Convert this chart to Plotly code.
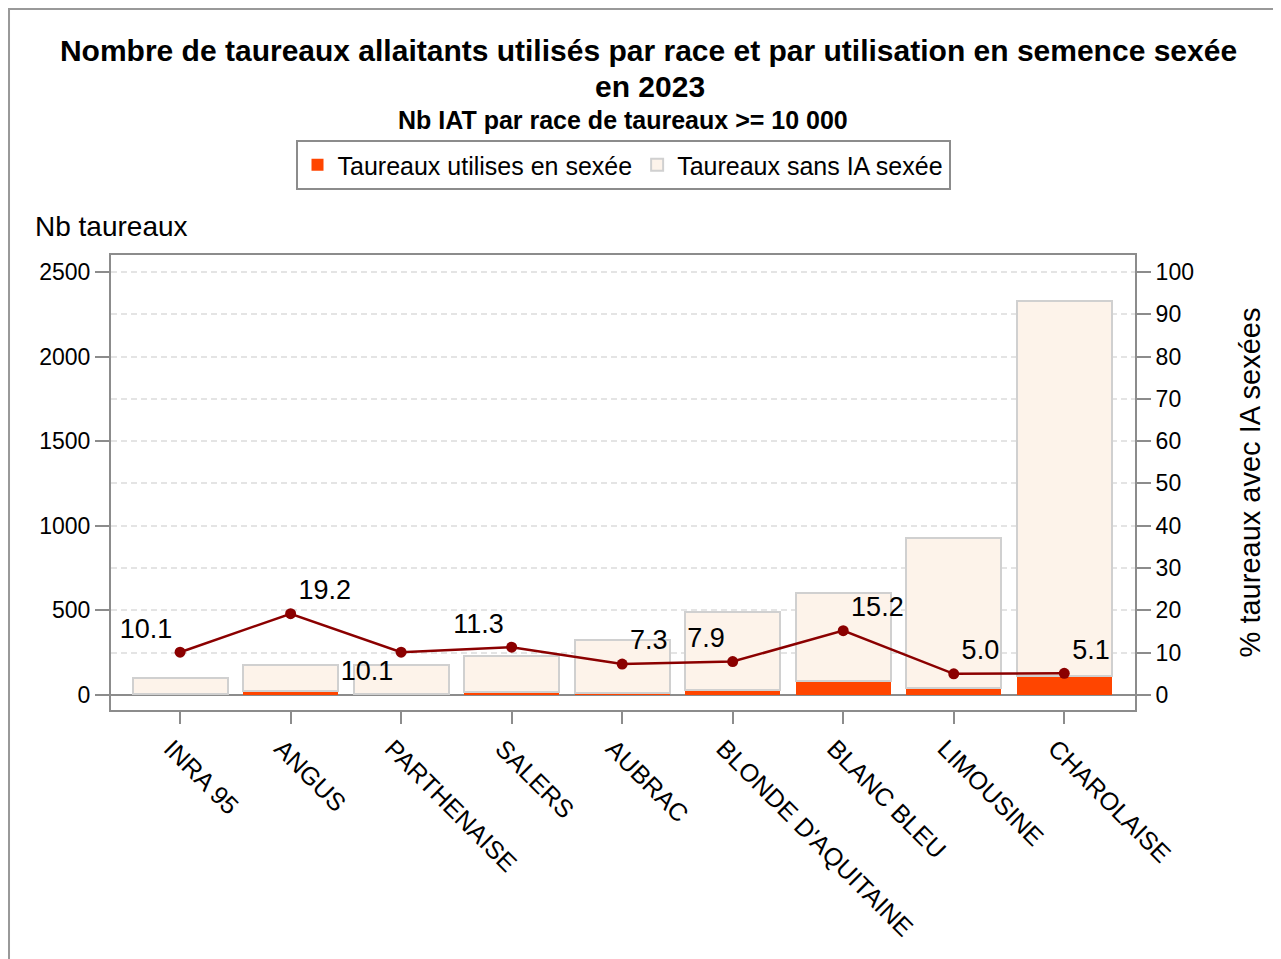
import plotly.graph_objects as go

races = ["INRA 95", "ANGUS", "PARTHENAISE", "SALERS", "AUBRAC",
         "BLONDE D'AQUITAINE", "BLANC BLEU", "LIMOUSINE", "CHAROLAISE"]
total_taureaux = [100, 175, 175, 230, 325, 490, 605, 930, 2330]
taureaux_sexee = [4, 26, 6, 15, 14, 28, 85, 40, 112]
pct_sexee = [10.1, 19.2, 10.1, 11.3, 7.3, 7.9, 15.2, 5.0, 5.1]
label_pos = ["top left", "top right", "bottom left", "top left", "top right",
             "top left", "top right", "top right", "top right"]

sans_sexee = [t - s for t, s in zip(total_taureaux, taureaux_sexee)]

FONT = "Liberation Sans, Arial, sans-serif"
AX = "#8c8c8c"
GRID = "#e4e4e4"

fig = go.Figure()
fig.add_trace(go.Bar(
    x=races, y=taureaux_sexee, name="Taureaux utilises en sexée",
    marker=dict(color="#ff4500", line=dict(color="#ff4500", width=0)),
    width=0.86,
))
fig.add_trace(go.Bar(
    x=races, y=sans_sexee, name="Taureaux sans IA sexée",
    marker=dict(color="#fdf3ea", line=dict(color="#d0d0d0", width=2)),
    width=0.86,
))
fig.add_trace(go.Scatter(
    x=races, y=pct_sexee, yaxis="y2", mode="lines+markers+text",
    line=dict(color="#8b0000", width=2.5),
    marker=dict(color="#8b0000", size=11),
    text=[f"{v:.1f}" for v in pct_sexee], textposition=label_pos,
    textfont=dict(size=27, color="black", family=FONT),
    showlegend=False, cliponaxis=False,
))

fig.update_layout(
    width=1281, height=959,
    barmode="stack",
    paper_bgcolor="white", plot_bgcolor="white",
    font=dict(family=FONT, size=23, color="black"),
    margin=dict(l=103, r=154, t=247, b=257, autoexpand=False),
    title=dict(
        text="<b>Nombre de taureaux allaitants utilisés par race et par utilisation en semence sexée</b>",
        x=0.5, xanchor="center", xref="container",
        y=1 - 42 / 959, yanchor="middle", yref="container",
        font=dict(size=30, family=FONT, color="black"),
    ),
    legend=dict(
        orientation="h", x=0.5, xanchor="center", y=1.1978, yanchor="middle",
        bordercolor=AX, borderwidth=2, bgcolor="white",
        font=dict(size=25, family=FONT), traceorder="normal",
        itemsizing="constant",
    ),
    xaxis=dict(
        range=[-0.625, 8.64], tickangle=45, showline=True, linecolor=AX, linewidth=2,
        mirror=True, ticks="outside", ticklen=12, tickcolor=AX, tickwidth=2,
        tickfont=dict(size=25), showgrid=False, automargin=False,
        ticklabelshift=-9,
    ),
    yaxis=dict(
        range=[-89, 2600], tickvals=[0, 500, 1000, 1500, 2000, 2500],
        showline=True, linecolor=AX, linewidth=2, mirror=True,
        ticks="outside", ticklen=14, tickcolor=AX, tickwidth=2,
        tickfont=dict(size=23), automargin=False,
        showgrid=True, gridcolor=GRID, griddash="6px,4px", gridwidth=2,
        zeroline=True, zerolinecolor=AX, zerolinewidth=2,
    ),
    yaxis2=dict(
        overlaying="y", side="right",
        range=[-3.56, 104], tickvals=list(range(0, 101, 10)),
        showline=False, ticks="outside", ticklen=15, tickcolor=AX, tickwidth=2,
        tickfont=dict(size=23), automargin=False,
        showgrid=True, gridcolor=GRID, griddash="6px,4px", gridwidth=2,
        zeroline=False,
        title=dict(text="% taureaux avec IA sexées", font=dict(size=29), standoff=46),
    ),
)

fig.add_annotation(
    text="<b>en 2023</b>", xref="paper", yref="paper",
    x=(641.5 - 103) / 1024, y=(702 - 78) / 455, xanchor="center", yanchor="middle",
    showarrow=False, font=dict(size=30, family=FONT),
)
fig.add_annotation(
    text="<b>Nb IAT par race de taureaux >= 10 000</b>", xref="paper", yref="paper",
    x=0.5, y=1.2967, xanchor="center", yanchor="middle", showarrow=False,
    font=dict(size=25, family=FONT),
)
fig.add_annotation(
    text="Nb taureaux", xref="paper", yref="paper", x=-0.0762, y=1.0637,
    xanchor="left", yanchor="middle", showarrow=False, font=dict(size=28, family=FONT),
)
fig.add_shape(
    type="rect", xref="paper", yref="paper",
    x0=-0.0996, x1=1.2, y0=-0.70, y1=1.5407,
    line=dict(color="#999999", width=2), fillcolor="rgba(0,0,0,0)", layer="below",
)

fig.write_html("out.html")
